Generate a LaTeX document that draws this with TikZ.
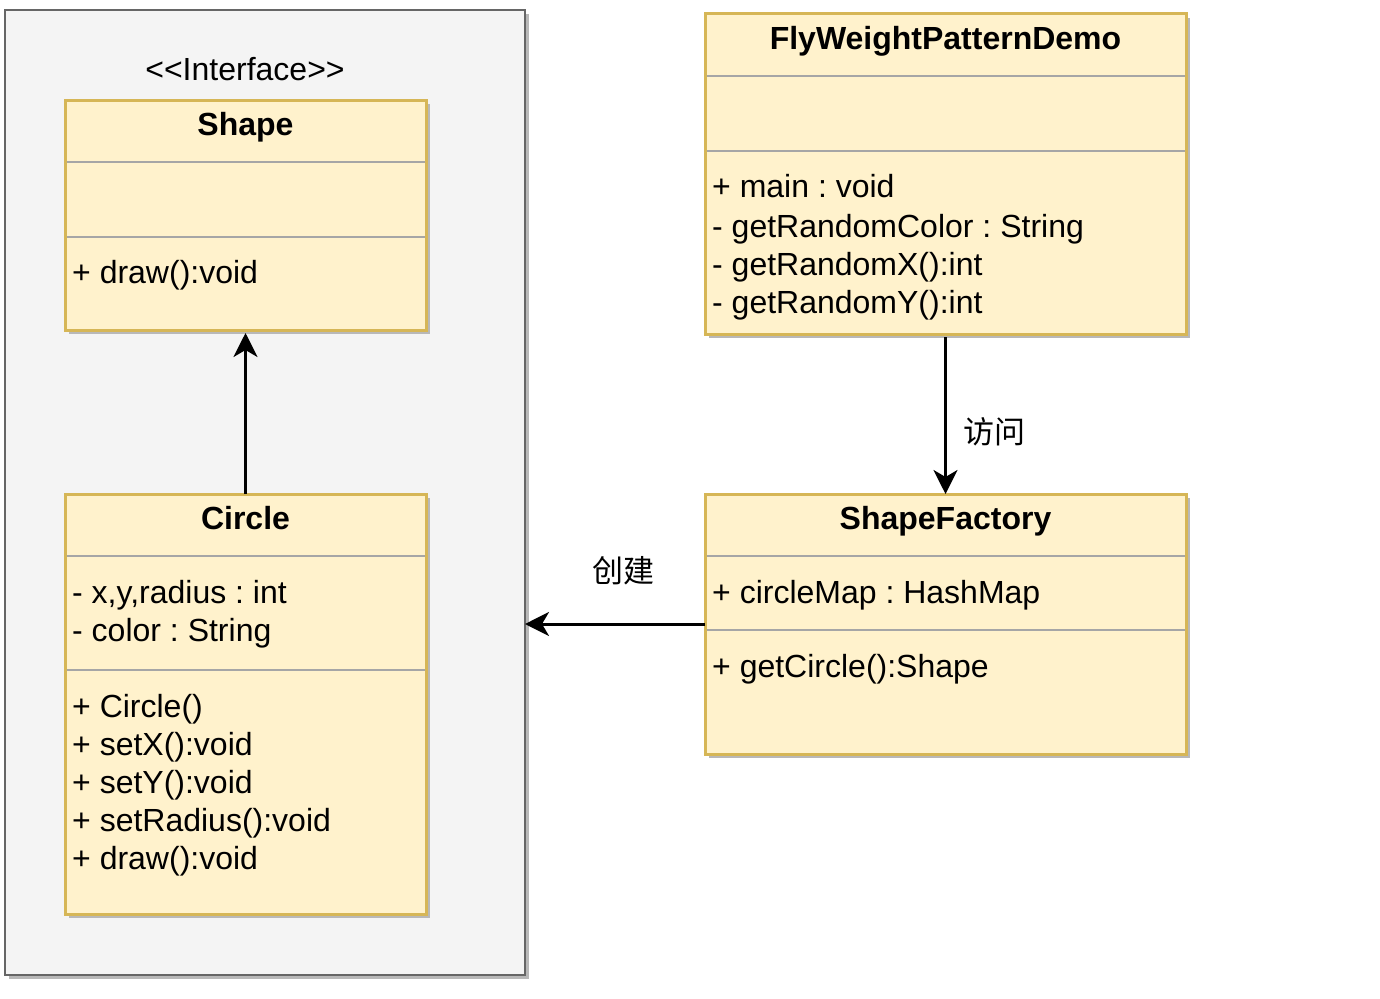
\documentclass[tikz,border=0pt]{standalone}
\usepackage{fontspec}
\setmainfont{Liberation Sans}
\newfontfamily\cjk{Noto Sans CJK SC}
\usetikzlibrary{arrows.meta,shadows}
\definecolor{boxfill}{HTML}{FFF2CC}
\definecolor{boxline}{HTML}{D6B656}
\definecolor{contfill}{HTML}{F4F4F4}
\definecolor{contline}{HTML}{666666}
\definecolor{divline}{HTML}{A6A6A6}
\definecolor{shadowgray}{HTML}{B8B8B8}
\frenchspacing
\tikzset{
  umlbox/.style={draw=boxline, fill=boxfill, line width=3pt, anchor=north west, inner sep=0pt, outer sep=0pt,
    drop shadow={shadow xshift=4pt, shadow yshift=-4pt, fill=shadowgray, opacity=1}},
  container/.style={draw=contline, fill=contfill, line width=1.5pt, anchor=north west, inner sep=0pt, outer sep=0pt,
    drop shadow={shadow xshift=4pt, shadow yshift=-4pt, fill=shadowgray, opacity=1}},
  divider/.style={draw=divline, line width=2pt},
  txt/.style={anchor=base west, inner sep=0pt, font=\fontsize{32}{38}\selectfont\frenchspacing},
  ttl/.style={anchor=base, inner sep=0pt, font=\fontsize{32}{38}\selectfont\bfseries},
  cjklbl/.style={inner sep=0pt, font=\fontsize{31}{36}\selectfont\cjk},
  conn/.style={line width=3pt, -{Stealth[length=24pt,width=24pt,inset=7pt]}}
}
\begin{document}
\begin{tikzpicture}[x=1pt,y=-1pt]
\useasboundingbox (0,0) rectangle (1380,998);
% container
\node[container, minimum width=520pt, minimum height=965pt] (iface) at (5,10) {};
\node[anchor=base, inner sep=0pt, font=\fontsize{32}{38}\selectfont] (stereo) at (245,80) {\textless{}\textless{}Interface\textgreater{}\textgreater{}};
% Shape
\node[umlbox, minimum width=361pt, minimum height=230pt] (shape) at (65,100) {};
\draw[divider] (66.5,162) -- (424.5,162);
\draw[divider] (66.5,237) -- (424.5,237);
\node[ttl] (shapet) at (245.5,135) {Shape};
\node[txt] (shapem1) at (72,283) {+ draw():void};
% Circle
\node[umlbox, minimum width=361pt, minimum height=420pt] (circle) at (65,494) {};
\draw[divider] (66.5,556) -- (424.5,556);
\draw[divider] (66.5,670) -- (424.5,670);
\node[ttl] (circlet) at (245.5,529) {Circle};
\node[txt] (circa1) at (72,603) {- x,y,radius : int};
\node[txt] (circa2) at (72,641) {- color : String};
\node[txt] (circm1) at (72,717) {+ Circle()};
\node[txt] (circm2) at (72,755) {+ setX():void};
\node[txt] (circm3) at (72,793) {+ setY():void};
\node[txt] (circm4) at (72,831) {+ setRadius():void};
\node[txt] (circm5) at (72,869) {+ draw():void};
% FlyWeightPatternDemo
\node[umlbox, minimum width=481pt, minimum height=320pt] (fly) at (705,14) {};
\draw[divider] (706.5,76) -- (1184.5,76);
\draw[divider] (706.5,151) -- (1184.5,151);
\node[ttl] (flyt) at (945.5,49) {FlyWeightPatternDemo};
\node[txt] (flym1) at (712,197) {+ main : void};
\node[txt] (flym2) at (712,237) {- getRandomColor : String};
\node[txt] (flym3) at (712,275) {- getRandomX():int};
\node[txt] (flym4) at (712,313) {- getRandomY():int};
% ShapeFactory
\node[umlbox, minimum width=481pt, minimum height=260pt] (sf) at (705,494) {};
\draw[divider] (706.5,556) -- (1184.5,556);
\draw[divider] (706.5,630) -- (1184.5,630);
\node[ttl] (sft) at (945.5,529) {ShapeFactory};
\node[txt] (sfa1) at (712,603) {+ circleMap : HashMap};
\node[txt] (sfm1) at (712,677) {+ getCircle():Shape};
% connectors
\draw[conn] (circle.north) -- ([yshift=-3pt]shape.south);
\draw[conn] ([yshift=-3pt]fly.south) -- (sf.north);
\draw[conn] (sf.west) -- (iface.east |- sf.west);
\node[cjklbl] (lblvisit) at (994,432) {访问};
\node[cjklbl] (lblcreate) at (623,571) {创建};
\end{tikzpicture}
\end{document}
